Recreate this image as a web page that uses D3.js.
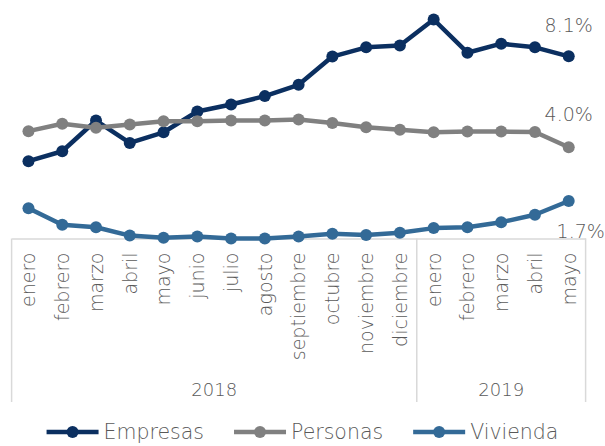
<!DOCTYPE html>
<html>
<head>
<meta charset="utf-8">
<script src="https://cdn.jsdelivr.net/npm/d3@7"></script>
<style>
  body { margin: 0; background: #fff; }
  text { font-family: "DejaVu Sans", sans-serif; font-weight: 200; fill: #595959; }
</style>
</head>
<body>
<div id="chart"></div>
<script>
// Data
const months = ["enero", "febrero", "marzo", "abril", "mayo", "junio", "julio", "agosto",
  "septiembre", "octubre", "noviembre", "diciembre", "enero", "febrero", "marzo", "abril", "mayo"]
const yearLabels = ["2018", "2019"]
const yearSpans = [12, 5]
const seriesNames = ["Empresas", "Personas", "Vivienda"]
const empresas = [3.42, 3.86, 5.22, 4.23, 4.70, 5.62, 5.93, 6.30, 6.80, 8.05, 8.46, 8.54, 9.69, 8.22, 8.62, 8.46, 8.06]
const personas = [4.75, 5.08, 4.90, 5.04, 5.19, 5.19, 5.22, 5.22, 5.27, 5.11, 4.92, 4.81, 4.70, 4.73, 4.73, 4.71, 4.04]
const vivienda = [1.34, 0.61, 0.50, 0.13, 0.03, 0.09, 0.00, 0.00, 0.09, 0.21, 0.16, 0.25, 0.46, 0.50, 0.72, 1.05, 1.66]
const colors = ["#0b2f60", "#808080", "#336a97"]

const seriesValues = [empresas, personas, vivienda]

// Dimensions
const dims = { width: 605, height: 446, left: 11.6, right: 585.6, axisY: 238.5, top: 12.5, boxBottom: 402 }

const svg = d3.select('#chart')
  .append('svg')
  .attr('width', dims.width)
  .attr('height', dims.height)

// Scales
const xScale = d3.scaleBand()
  .domain(d3.range(months.length))
  .range([dims.left, dims.right])
const xc = i => xScale(i) + xScale.bandwidth() / 2

const yScale = d3.scaleLinear()
  .domain([0, 10])
  .range([dims.axisY, dims.top])

// Category axis
const xAxis = d3.axisBottom(xScale)
  .tickSize(0)
  .tickSizeOuter(0)
  .tickFormat(i => months[i])

const xAxisGroup = svg.append('g')
  .attr('transform', `translate(0, ${dims.axisY})`)
  .call(xAxis)

xAxisGroup.select('.domain')
  .attr('stroke', '#d9d9d9')
  .attr('stroke-width', 1.5)

xAxisGroup.selectAll('.tick text')
  .attr('transform', 'rotate(-90)')
  .attr('text-anchor', 'end')
  .attr('x', -14)
  .attr('y', 0)
  .attr('dy', '0.36em')
  .style('font-family', '"DejaVu Sans", sans-serif')
  .style('font-size', '19px')
  .attr('fill', '#595959')

// Year groups
let start = 0
const bounds = [0]
yearSpans.forEach(n => { start += n; bounds.push(start) })
const boundX = b => b < months.length ? xScale(b) : dims.right

svg.append('g')
  .selectAll('line')
  .data(bounds)
  .join('line')
  .attr('x1', d => boundX(d))
  .attr('x2', d => boundX(d))
  .attr('y1', dims.axisY)
  .attr('y2', dims.boxBottom)
  .attr('stroke', '#d9d9d9')
  .attr('stroke-width', 1.5)

svg.append('g')
  .selectAll('text')
  .data(yearLabels)
  .join('text')
  .attr('x', (d, i) => (boundX(bounds[i]) + boundX(bounds[i + 1])) / 2)
  .attr('y', 396)
  .attr('text-anchor', 'middle')
  .style('font-size', '18px')
  .text(d => d)

// Lines
const line = d3.line()
  .x((d, i) => xc(i))
  .y(d => yScale(d))

seriesValues.forEach((vals, s) => {
  const g = svg.append('g')
  g.append('path')
    .datum(vals)
    .attr('d', line)
    .attr('fill', 'none')
    .attr('stroke', colors[s])
    .attr('stroke-width', 4.5)
    .attr('stroke-linejoin', 'round')
  g.selectAll('circle')
    .data(vals)
    .join('circle')
    .attr('cx', (d, i) => xc(i))
    .attr('cy', d => yScale(d))
    .attr('r', 6)
    .attr('fill', colors[s])
})

// End labels
const labelOffsets = [[0, -24], [0, -26], [12, 37]]
seriesValues.forEach((vals, s) => {
  const last = vals.length - 1
  svg.append('text')
    .attr('x', xc(last) + labelOffsets[s][0])
    .attr('y', yScale(vals[last]) + labelOffsets[s][1])
    .attr('text-anchor', 'middle')
    .style('font-size', '19px')
    .text(vals[last].toFixed(1) + '%')
})

// Legend
const legend = svg.append('g').attr('transform', 'translate(0, 432)')
const items = legend.selectAll('g')
  .data(seriesNames)
  .join('g')

items.append('line')
  .attr('x1', 0).attr('x2', 52)
  .attr('stroke', (d, i) => colors[i])
  .attr('stroke-width', 4.5)
items.append('circle')
  .attr('cx', 26)
  .attr('r', 6)
  .attr('fill', (d, i) => colors[i])
items.append('text')
  .attr('x', 57)
  .attr('dy', '0.36em')
  .style('font-size', '20.5px')
  .text(d => d)

const widths = []
items.each(function () { widths.push(this.getBBox().width) })
const gap = 30
const total = d3.sum(widths) + gap * (widths.length - 1)
let cursor = dims.width / 2 - total / 2
items.attr('transform', (d, i) => {
  const x = cursor
  cursor += widths[i] + gap
  return `translate(${x}, 0)`
})
</script>
</body>
</html>
